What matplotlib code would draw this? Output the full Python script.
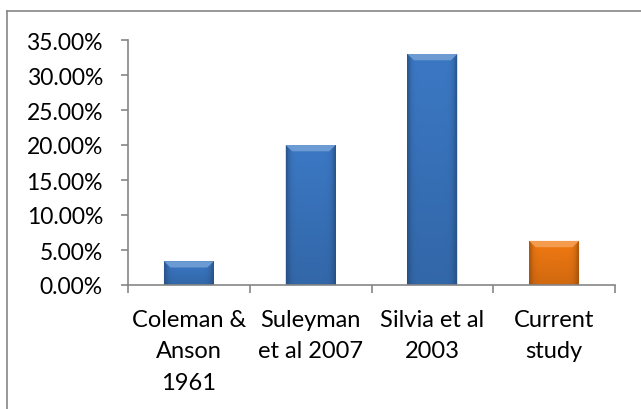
import numpy as np
import matplotlib
matplotlib.use("Agg")
import matplotlib.pyplot as plt
from matplotlib.patches import Polygon
from matplotlib.colors import to_rgb
from matplotlib.ticker import FuncFormatter

# Data
categories = ["Coleman &\nAnson\n1961", "Suleyman\net al 2007", "Silvia et al\n2003", "Current\nstudy"]
values = [3.4, 20.0, 33.0, 6.3]          # percent
bar_colors = ["#3b78c4", "#3b78c4", "#3b78c4", "#f27a12"]
yticks = [0, 5, 10, 15, 20, 25, 30, 35]

plt.rcParams["font.family"] = ["Lato", "DejaVu Sans"]

W, H = 641, 410
fig = plt.figure(figsize=(W / 100, H / 100), dpi=100)

# outer chart frame (runs past the right and bottom edges)
frame = fig.add_axes([7 / W, -0.05, 1.0, 1 - 12 / H + 0.05])
frame.set_xticks([]); frame.set_yticks([])
frame.patch.set_alpha(0)
for s in frame.spines.values():
    s.set_color("#868686"); s.set_linewidth(1.2)
frame.set_zorder(0)

ax = fig.add_axes([128 / W, 124 / H, (615 - 128) / W, 245 / H])
ax.set_zorder(1)
ax.patch.set_alpha(0)

x = np.arange(len(categories))
width = 0.41
bars = ax.bar(x, values, width=width, color=bar_colors, edgecolor="none", zorder=2)

ax.set_xlim(-0.5, len(categories) - 0.5)
ax.set_ylim(0, 35)


def shade(c, f):
    r = np.array(to_rgb(c))
    if f >= 0:
        return tuple(r + (1 - r) * f)
    return tuple(r * (1 + f))


# shading: darker edges and slight darkening toward the base, plus a lighter top bevel
for b, c in zip(bars, bar_colors):
    x0, y0 = b.get_x(), b.get_y()
    w, h = b.get_width(), b.get_height()
    nx, ny = 60, 60
    u = np.linspace(-1, 1, nx)
    v = np.linspace(0, 1, ny)[:, None]
    side = 1 - 0.3 * np.abs(u) ** 8
    vert = 0.86 + 0.14 * v
    base = np.array(to_rgb(c))
    img = base[None, None, :] * (side[None, :, None] * vert[:, :, None])
    img = np.clip(img, 0, 1)
    im = ax.imshow(img, extent=[x0, x0 + w, y0, y0 + h], origin="lower",
                   aspect="auto", zorder=3, interpolation="bilinear")
    im.set_clip_path(b)
    # top bevel
    bev_h = 0.9 if h > 1.5 else h * 0.3
    bev_w = w * 0.13
    top = Polygon([[x0, y0 + h], [x0 + w, y0 + h],
                   [x0 + w - bev_w, y0 + h - bev_h], [x0 + bev_w, y0 + h - bev_h]],
                  closed=True, facecolor=shade(c, 0.25), edgecolor="none", zorder=4)
    ax.add_patch(top)
    # side bevels
    for xs in ([x0, x0 + bev_w * 0.35], [x0 + w, x0 + w - bev_w * 0.35]):
        sidep = Polygon([[xs[0], y0], [xs[0], y0 + h], [xs[1], y0 + h - bev_h], [xs[1], y0]],
                        closed=True, facecolor=shade(c, -0.25), edgecolor="none",
                        alpha=0.6, zorder=4)
        ax.add_patch(sidep)

# axes styling
gray = "#868686"
for s in ["top", "right"]:
    ax.spines[s].set_visible(False)
for s in ["left", "bottom"]:
    ax.spines[s].set_color(gray)
    ax.spines[s].set_linewidth(1.2)
    ax.spines[s].set_zorder(5)

ax.set_yticks(yticks)
ax.yaxis.set_major_formatter(FuncFormatter(lambda v, p: f"{v:.2f}%"))
ax.tick_params(axis="y", length=5, width=1.2, color=gray, labelsize=16.5,
               labelcolor="black", pad=13)

# category boundary ticks on x, labels at the centers
ax.set_xticks(np.arange(-0.5, len(categories)), minor=False)
ax.set_xticklabels([])
ax.set_xticks(x, minor=True)
ax.set_xticklabels(categories, minor=True, fontsize=17, linespacing=1.62)
ax.tick_params(axis="x", which="major", length=6, width=1.2, color=gray)
ax.tick_params(axis="x", which="minor", length=0, pad=17)

fig.savefig("out.png", dpi=100)
